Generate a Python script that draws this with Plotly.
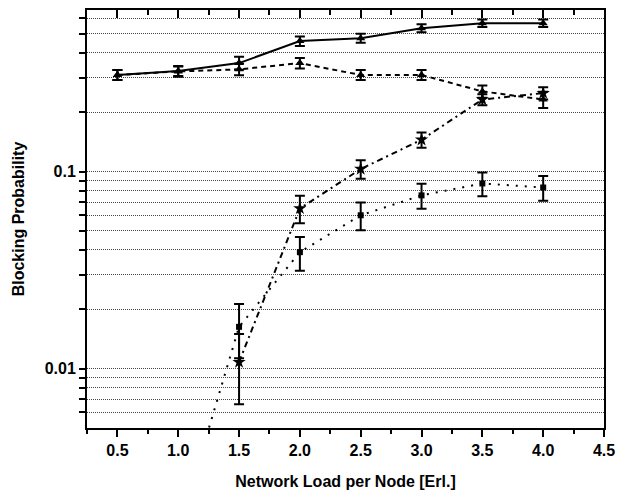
import plotly.graph_objects as go
import numpy as np

# Data
loads = [0.5, 1.0, 1.5, 2.0, 2.5, 3.0, 3.5, 4.0]

solid_vals = [0.309, 0.324, 0.355, 0.459, 0.475, 0.534, 0.566, 0.566]
solid_err = [0.018, 0.019, 0.027, 0.025, 0.025, 0.025, 0.025, 0.025]

dashed_vals = [0.309, 0.322, 0.330, 0.355, 0.309, 0.309, 0.255, 0.232]
dashed_err = [0.018, 0.019, 0.022, 0.022, 0.018, 0.018, 0.018, 0.022]

star_loads = [1.5, 2.0, 2.5, 3.0, 3.5, 4.0]
star_vals = [0.0108, 0.065, 0.103, 0.145, 0.232, 0.250]
star_err = [0.0042, 0.0103, 0.011, 0.013, 0.015, 0.018]

square_loads = [1.0, 1.5, 2.0, 2.5, 3.0, 3.5, 4.0]
square_vals = [0.0015, 0.0163, 0.039, 0.060, 0.0757, 0.087, 0.083]
square_err = [0.0003, 0.005, 0.0076, 0.0097, 0.011, 0.012, 0.012]

x_ticks = [0.5, 1.0, 1.5, 2.0, 2.5, 3.0, 3.5, 4.0, 4.5]
y_grid = [0.006, 0.007, 0.008, 0.009, 0.01, 0.02, 0.03, 0.04, 0.05, 0.06, 0.07, 0.08, 0.09,
          0.1, 0.2, 0.3, 0.4, 0.5, 0.6]
y_labels = {0.01: "0.01", 0.1: "0.1"}

FONT = "Liberation Sans, Arial, sans-serif"
BLACK = "#000000"

def err(arr):
    return dict(type="data", array=arr, visible=True, color=BLACK, thickness=2, width=5)

fig = go.Figure()

fig.add_trace(go.Scatter(x=loads, y=solid_vals, mode="lines+markers",
                         line=dict(color=BLACK, width=2, dash="solid"),
                         marker=dict(symbol="triangle-up", size=8, color=BLACK),
                         error_y=err(solid_err), showlegend=False))
fig.add_trace(go.Scatter(x=loads, y=dashed_vals, mode="lines+markers",
                         line=dict(color=BLACK, width=2, dash="5px,4px"),
                         marker=dict(symbol="triangle-up", size=8, color=BLACK),
                         error_y=err(dashed_err), showlegend=False))
fig.add_trace(go.Scatter(x=star_loads, y=star_vals, mode="lines+markers",
                         line=dict(color=BLACK, width=2, dash="6px,4px,2px,4px"),
                         marker=dict(symbol="star", size=10, color=BLACK),
                         error_y=err(star_err), showlegend=False))
fig.add_trace(go.Scatter(x=square_loads, y=square_vals, mode="lines+markers",
                         line=dict(color=BLACK, width=2, dash="2px,7px"),
                         marker=dict(symbol="square", size=6, color=BLACK),
                         error_y=err(square_err), showlegend=False))
# invisible trace to enable top axis
fig.add_trace(go.Scatter(x=[x_ticks[0]], y=[0.1], xaxis="x2", mode="markers",
                         marker=dict(opacity=0), showlegend=False, hoverinfo="skip"))

fig.update_layout(
    width=625, height=498,
    margin=dict(l=87, r=17, t=10, b=66),
    plot_bgcolor="white", paper_bgcolor="white",
    font=dict(family=FONT, size=16, color=BLACK),
    xaxis=dict(
        range=[0.25, 4.5], tickvals=x_ticks, ticktext=[f"{v:.1f}" for v in x_ticks],
        ticks="outside", ticklen=7, tickwidth=2, tickcolor=BLACK,
        minor=dict(dtick=0.25, ticks="outside", ticklen=4, tickwidth=2, tickcolor=BLACK, showgrid=False),
        showline=True, linewidth=2, linecolor=BLACK, mirror=False,
        showgrid=False, zeroline=False,
        tickfont=dict(family=FONT, size=16, color=BLACK, weight="bold"),
        title=dict(text="<b>Network Load per Node [Erl.]</b>", font=dict(family=FONT, size=16), standoff=18),
    ),
    xaxis2=dict(
        overlaying="x", side="top", matches="x", range=[0.25, 4.5],
        tickvals=x_ticks, showticklabels=False,
        ticks="inside", ticklen=8, tickwidth=2, tickcolor=BLACK,
        minor=dict(dtick=0.25, ticks="inside", ticklen=5, tickwidth=2, tickcolor=BLACK, showgrid=False),
        showline=True, linewidth=2, linecolor=BLACK, showgrid=False, zeroline=False,
    ),
    yaxis=dict(
        type="log", range=[np.log10(0.005), np.log10(0.66)],
        tickvals=y_grid, ticktext=[y_labels.get(v, "") for v in y_grid],
        ticks="outside", ticklen=6, tickwidth=2, tickcolor=BLACK,
        showline=True, linewidth=2, linecolor=BLACK, mirror=True,
        showgrid=True, gridcolor="#444444", gridwidth=1, griddash="1px,1px",
        zeroline=False,
        tickfont=dict(family=FONT, size=16, color=BLACK, weight="bold"),
        title=dict(text="<b>Blocking Probability</b>", font=dict(family=FONT, size=16), standoff=16),
    ),
)

fig.write_html("out.html")
